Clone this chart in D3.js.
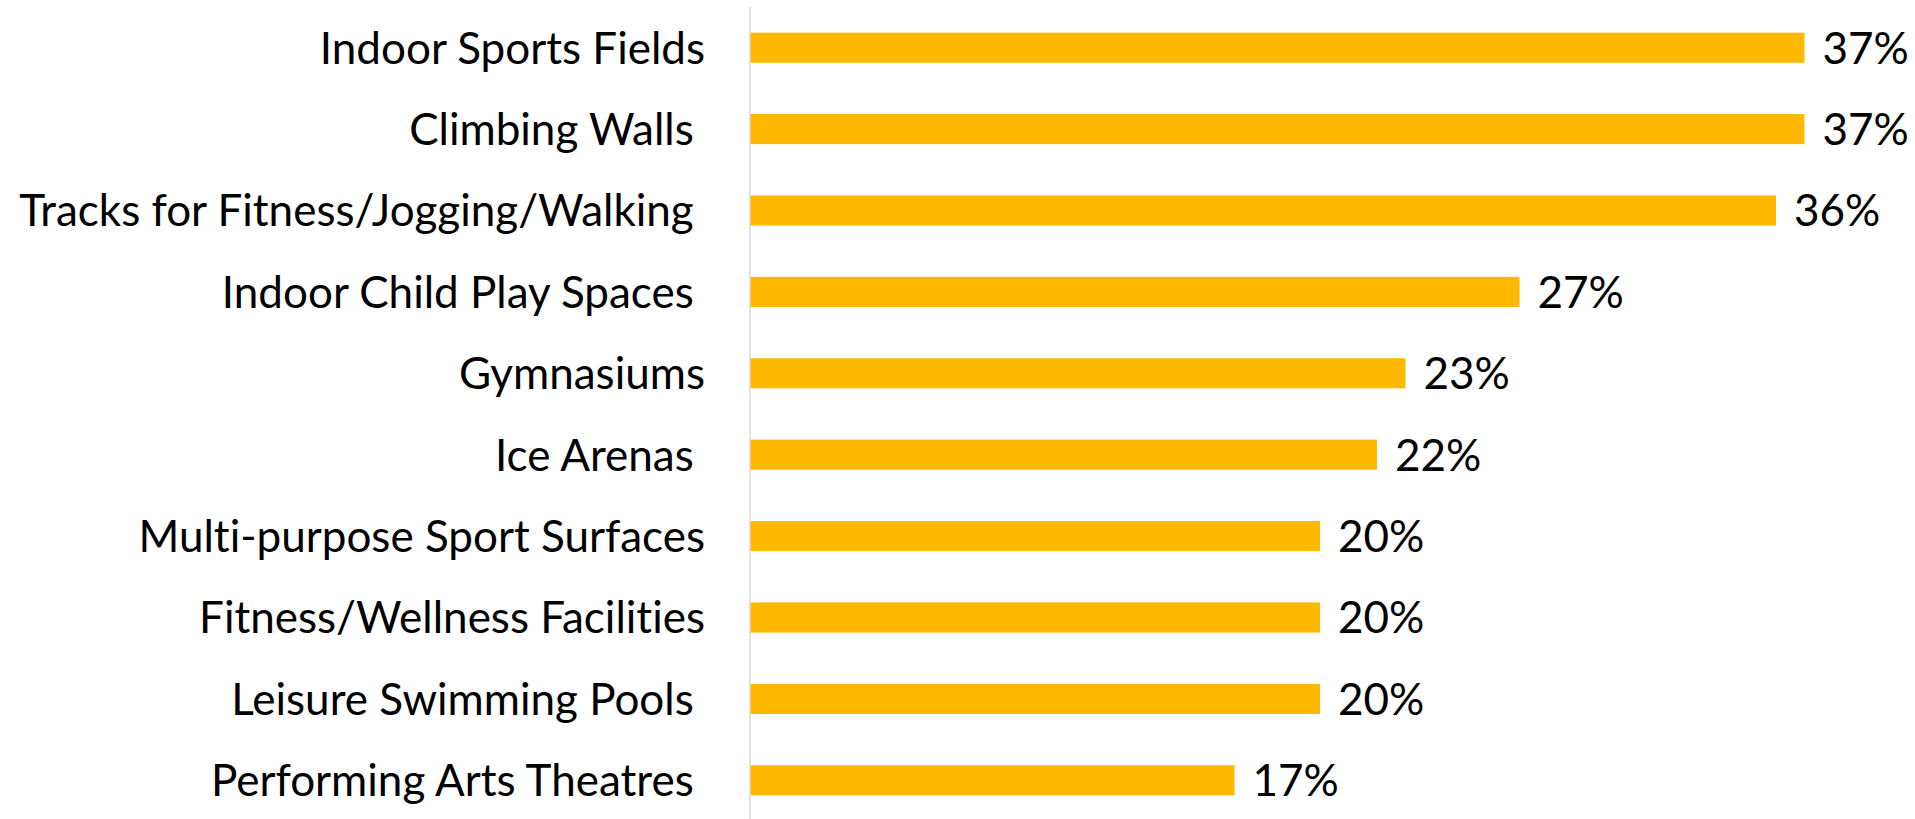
<!DOCTYPE html>
<meta charset="utf-8">
<style>
  body { margin: 0; background: #fff; }
  text { font-family: Lato, "Open Sans", sans-serif; fill: #000; white-space: pre; font-variant-ligatures: none; }
</style>
<body>
<svg width="1915" height="819"></svg>
<script src="https://cdn.jsdelivr.net/npm/d3@7"></script>
<script>
// chart data
var categories = [
  "Indoor Sports Fields",
  "Climbing Walls ",
  "Tracks for Fitness/Jogging/Walking ",
  "Indoor Child Play Spaces ",
  "Gymnasiums",
  "Ice Arenas ",
  "Multi-purpose Sport Surfaces",
  "Fitness/Wellness Facilities",
  "Leisure Swimming Pools ",
  "Performing Arts Theatres "
];
var values = [37, 37, 36, 27, 23, 22, 20, 20, 20, 17];

var svg = d3.select("svg"),
    width = +svg.attr("width"),
    height = +svg.attr("height");

var x0 = 750, fontSize = 44;

var x = d3.scaleLinear().domain([0, 40]).range([x0, x0 + 1140]);

var y = d3.scaleBand()
    .domain(categories)
    .range([7, 821])
    .paddingInner(0.63)
    .paddingOuter(0.315);

var data = categories.map(function(c, i) { return { name: c, value: values[i] }; });

// bars
svg.append("g").selectAll("rect")
  .data(data)
  .enter().append("rect")
    .attr("x", x(0))
    .attr("y", function(d) { return y(d.name); })
    .attr("width", function(d) { return x(d.value) - x(0); })
    .attr("height", y.bandwidth())
    .attr("fill", "#FFB900");

// vertical axis line
svg.append("line")
    .attr("x1", x(0)).attr("x2", x(0))
    .attr("y1", 7).attr("y2", height)
    .attr("stroke", "#D9D9D9")
    .attr("stroke-width", 1.5);

// category labels
svg.append("g").selectAll("text")
  .data(data)
  .enter().append("text")
    .attr("x", 705)
    .attr("y", function(d) { return y(d.name) + y.bandwidth() / 2 + fontSize * 0.36; })
    .attr("text-anchor", "end")
    .style("font-size", fontSize + "px")
    .text(function(d) { return d.name; });

// value labels
svg.append("g").selectAll("text")
  .data(data)
  .enter().append("text")
    .attr("x", function(d) { return x(d.value) + 18; })
    .attr("y", function(d) { return y(d.name) + y.bandwidth() / 2 + fontSize * 0.36; })
    .style("font-size", fontSize + "px")
    .text(function(d) { return d.value + "%"; });
</script>
</body>
